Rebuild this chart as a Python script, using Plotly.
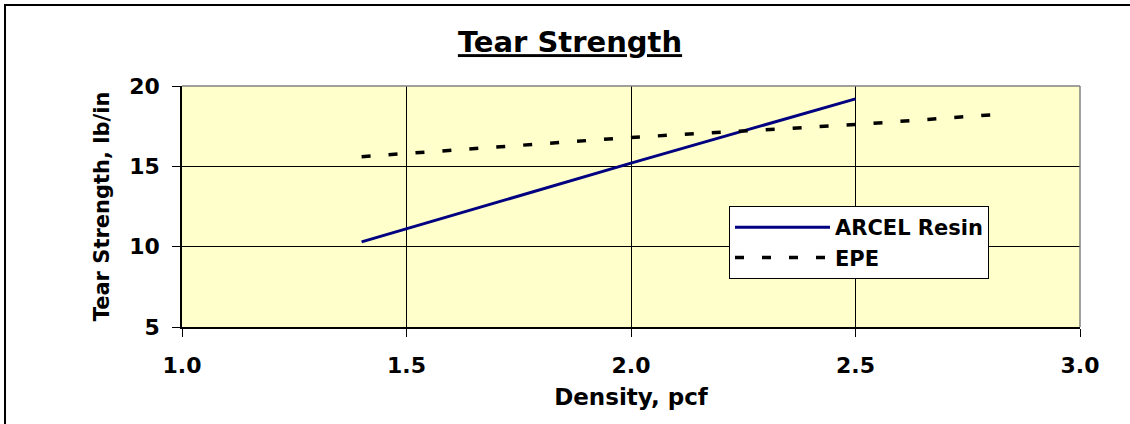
import plotly.graph_objects as go

density_arcel = [1.4, 2.0, 2.5]
tear_arcel = [10.3, 15.2, 19.2]
density_epe = [1.4, 2.0, 2.5, 2.8]
tear_epe = [15.6, 16.8, 17.6, 18.2]
x_ticks = [1.0, 1.5, 2.0, 2.5, 3.0]
x_tick_labels = ["1.0", "1.5", "2.0", "2.5", "3.0"]
y_ticks = [5, 10, 15, 20]
y_tick_labels = ["5", "10", "15", "20"]

FONT = "DejaVu Sans, Arial, sans-serif"

fig = go.Figure()
fig.add_trace(go.Scatter(x=density_arcel, y=tear_arcel, mode="lines", name="ARCEL Resin",
                         line=dict(color="#000080", width=3)))
fig.add_trace(go.Scatter(x=density_epe, y=tear_epe, mode="lines", name="EPE",
                         line=dict(color="black", width=3.5, dash="9px,18px")))

L, R, T, B = 182, 50, 86, 97
W, H = 1130, 424
pw, ph = W - L - R, H - T - B

def px(x):
    return (x - L) / pw

def py(y):
    return (H - B - y) / ph

fig.update_layout(
    width=W, height=H,
    margin=dict(l=L, r=R, t=T, b=B),
    paper_bgcolor="white",
    plot_bgcolor="#FFFFCC",
    font=dict(family=FONT, color="black"),
    title=dict(text="<b><u>Tear Strength</u></b>", xref="container", x=570 / W, xanchor="center",
               yref="container", y=1 - 42 / H, yanchor="middle", font=dict(size=29, family=FONT)),
    showlegend=True,
    legend=dict(x=px(729), y=py(206), xanchor="left", yanchor="top",
                bgcolor="white", bordercolor="black", borderwidth=1,
                font=dict(size=21, family=FONT, weight="bold"), itemwidth=95,
                tracegroupgap=0),
    xaxis=dict(range=[1.0, 3.0], tickvals=x_ticks, ticktext=x_tick_labels,
               showgrid=True, gridcolor="black", gridwidth=1,
               showline=True, linecolor="black", linewidth=1.5, mirror=False,
               ticks="outside", ticklen=8, tickcolor="black", ticklabelstandoff=10,
               tickfont=dict(size=22, family=FONT, weight="bold"), zeroline=False,
               title=dict(text="Density, pcf", font=dict(size=23, family=FONT, weight="bold"), standoff=12)),
    yaxis=dict(range=[5, 20], tickvals=y_ticks, ticktext=y_tick_labels,
               showgrid=True, gridcolor="black", gridwidth=1,
               showline=True, linecolor="black", linewidth=1.5,
               ticks="outside", ticklen=8, tickcolor="black", ticklabelstandoff=8,
               tickfont=dict(size=22, family=FONT, weight="bold"), zeroline=False,
               title=dict(text="Tear Strength, lb/in", font=dict(size=21, family=FONT, weight="bold"), standoff=14)),
)

# plot-area top/right border (gray)
fig.add_shape(type="line", xref="paper", yref="paper", x0=0, x1=1, y0=1, y1=1,
              line=dict(color="#808080", width=1.5))
fig.add_shape(type="line", xref="paper", yref="paper", x0=1, x1=1, y0=0, y1=1,
              line=dict(color="#808080", width=1.5))
# outer chart border
fig.add_shape(type="rect", xref="paper", yref="paper",
              x0=px(5), x1=px(1140), y0=py(440), y1=py(5),
              line=dict(color="black", width=2), fillcolor="rgba(0,0,0,0)", layer="above")

fig.write_html("out.html", config={"displayModeBar": False},
               post_script="document.body.style.margin='0';document.body.style.padding='0';")
